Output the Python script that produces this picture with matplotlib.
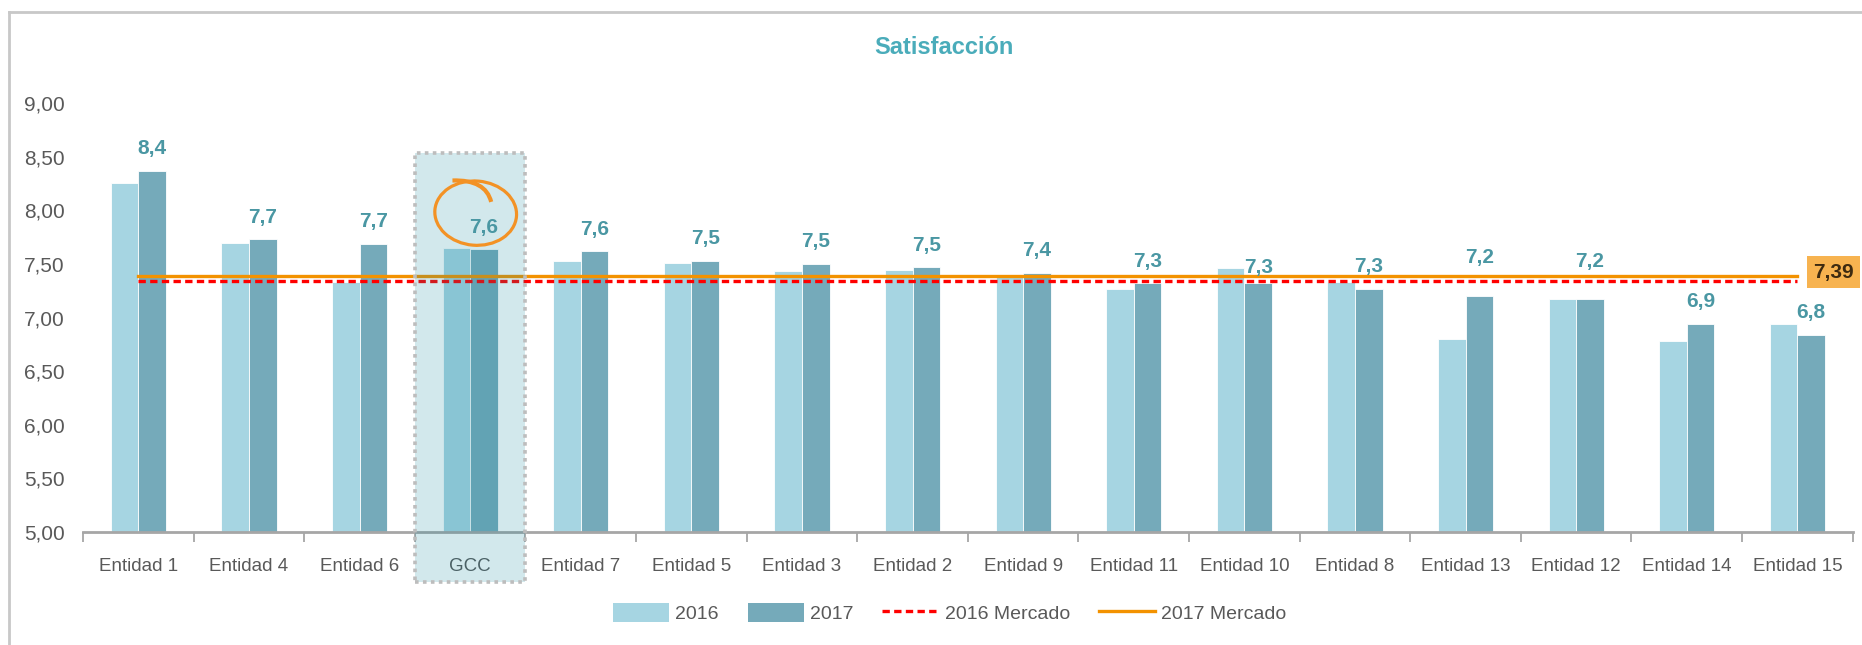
import numpy as np
import matplotlib
matplotlib.use('Agg')
import matplotlib.pyplot as plt
from matplotlib.patches import Rectangle, Ellipse, Patch, PathPatch
from matplotlib.lines import Line2D
from matplotlib.path import Path
from matplotlib.ticker import FuncFormatter

plt.rcParams['font.family'] = ['Liberation Sans Narrow', 'Liberation Sans', 'DejaVu Sans']

entidades = ['Entidad 1', 'Entidad 4', 'Entidad 6', 'GCC', 'Entidad 7', 'Entidad 5',
             'Entidad 3', 'Entidad 2', 'Entidad 9', 'Entidad 11', 'Entidad 10',
             'Entidad 8', 'Entidad 13', 'Entidad 12', 'Entidad 14', 'Entidad 15']
sat_2016 = [8.26, 7.70, 7.33, 7.65, 7.53, 7.51, 7.43, 7.44, 7.40, 7.27, 7.46,
            7.33, 6.80, 7.17, 6.78, 6.94]
sat_2017 = [8.37, 7.73, 7.69, 7.64, 7.62, 7.53, 7.50, 7.47, 7.42, 7.32, 7.32,
            7.27, 7.20, 7.17, 6.94, 6.84]
mercado_2016 = 7.34
mercado_2017 = 7.39

c16 = '#a6d5e2'
c17 = '#75aaba'
teal_txt = '#4a97a3'
grey_txt = '#595959'

fig = plt.figure(figsize=(18.62, 6.45), dpi=100)
ax = fig.add_axes([0.0446, 0.1757, 0.9504, 0.664])

x = np.arange(len(entidades))
w = 0.25
ax.bar(x - w/2, sat_2016, w, color=c16, edgecolor='white', linewidth=0.6, zorder=2)
ax.bar(x + w/2, sat_2017, w, color=c17, edgecolor='white', linewidth=0.6, zorder=2)

ax.plot(x, [mercado_2016]*len(x), color='#ff0000', lw=2.4, ls=(0, (2.2, 1.3)), zorder=3)
ax.plot(x, [mercado_2017]*len(x), color='#f39200', lw=2.4, zorder=3)

# etiquetas de 2017 (algunas desplazadas a mano)
nudge = {10: -6, 12: 17, 13: 16}
for i, v in enumerate(sat_2017):
    ax.annotate(f'{v:.1f}'.replace('.', ','), (x[i] + w/2, v),
                xytext=(0, 22 + nudge.get(i, 0)), textcoords='offset pixels',
                ha='center', va='center', fontsize=15, fontweight='bold',
                color=teal_txt, zorder=6)

# recuadro GCC
gi = entidades.index('GCC')
ax.add_patch(Rectangle((gi - 0.5, 4.53), 1.0, 8.54 - 4.53, facecolor='#10859c',
                       alpha=0.19, edgecolor='none', clip_on=False, zorder=4))
ax.add_patch(Rectangle((gi - 0.5, 4.53), 1.0, 8.54 - 4.53, facecolor='none',
                       edgecolor='#bdbdbd', lw=2.6, ls=(0, (1, 1.2)),
                       clip_on=False, zorder=5))

# circulo naranja
ax.add_patch(Ellipse((3.05, 7.975), 0.74, 0.6, angle=-5, facecolor='none',
                     edgecolor='#f39225', lw=2.3, zorder=7))
swoosh = Path([(2.84, 8.28), (3.14, 8.29), (3.19, 8.08)],
              [Path.MOVETO, Path.CURVE3, Path.CURVE3])
ax.add_patch(PathPatch(swoosh, facecolor='none', edgecolor='#f39225', lw=3.0, zorder=7))

# valor de mercado 2017
ax.text(15.33, 7.425, f'{mercado_2017:.2f}'.replace('.', ','), ha='center', va='center',
        fontsize=15, fontweight='bold', color='#3d2a10', zorder=7, clip_on=False,
        bbox=dict(boxstyle='square,pad=0.3', facecolor='#f7b350', edgecolor='none'))

ax.set_xlim(-0.5, len(x) - 0.5)
ax.set_ylim(5, 9)
ax.set_yticks(np.arange(5, 9.01, 0.5))
ax.yaxis.set_major_formatter(FuncFormatter(lambda v, p: f'{v:.2f}'.replace('.', ',')))
ax.set_xticks(x)
ax.set_xticklabels(entidades)
ax.set_xticks(np.arange(-0.5, len(x)), minor=True)
ax.tick_params(axis='x', which='major', length=0, pad=19, labelsize=13.5, labelcolor=grey_txt)
ax.tick_params(axis='x', which='minor', length=7, width=1.3, color='#a6a6a6')
ax.tick_params(axis='y', length=0, pad=13, labelsize=15, labelcolor=grey_txt)
for s in ['top', 'right', 'left']:
    ax.spines[s].set_visible(False)
ax.spines['bottom'].set_color('#a6a6a6')
ax.spines['bottom'].set_linewidth(2)
ax.spines['bottom'].set_zorder(3)

fig.text(0.507, 0.926, 'Satisfacción', ha='center', va='center', fontsize=17,
         fontweight='bold', color='#4aacba')

handles = [Patch(facecolor=c16), Patch(facecolor=c17),
           Line2D([0], [0], color='#ff0000', lw=2.4, ls=(0, (2.2, 1.3))),
           Line2D([0], [0], color='#f39200', lw=2.4)]
fig.legend(handles, ['2016', '2017', '2016 Mercado', '2017 Mercado'], loc='center',
           bbox_to_anchor=(0.51, 0.049), ncol=4, frameon=False, fontsize=14,
           labelcolor=grey_txt, handlelength=2.9, handleheight=1.1,
           handletextpad=0.3, columnspacing=1.5)

# marco del grafico
fig.add_artist(Line2D([9/1862, 1], [1 - 12/645, 1 - 12/645], color='#c8c8c8', lw=2))
fig.add_artist(Line2D([9/1862, 9/1862], [0, 1 - 12/645], color='#c8c8c8', lw=2))

fig.savefig('out.png', dpi=100)
